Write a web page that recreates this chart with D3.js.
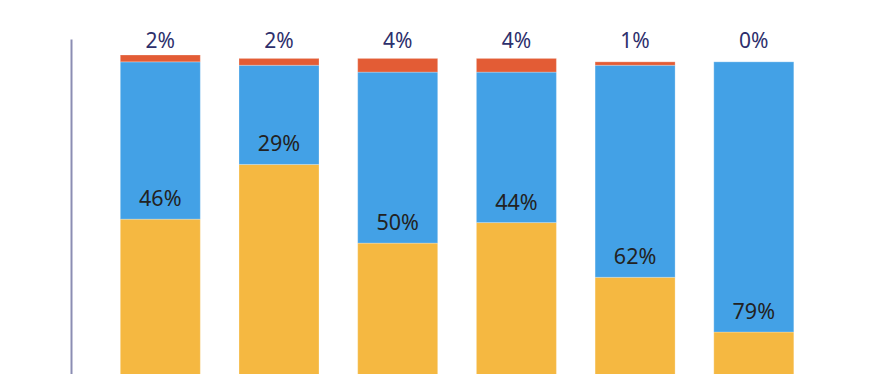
<!DOCTYPE html>
<html>
<head>
<meta charset="utf-8">
<script src="https://cdn.jsdelivr.net/npm/d3@7"></script>
<style>
  html, body { margin: 0; padding: 0; background: #fff; overflow: hidden; }
  svg { display: block; }
  text { font-family: "Noto Sans", "Open Sans", sans-serif; }
</style>
</head>
<body>
<svg id="chart" width="872" height="374"></svg>
<script>
const categories = ["A", "B", "C", "D", "E", "F"];
const orangeValues = [52, 68, 45, 51, 35, 19];
const blueValues = [46, 29, 50, 44, 62, 79];
const redValues = [2, 2, 4, 4, 1, 0];
const topLabels = ["2%", "2%", "4%", "4%", "1%", "0%"];
const blueLabels = ["46%", "29%", "50%", "44%", "62%", "79%"];

const colors = { orange: "#f5b841", blue: "#43a1e6", red: "#e35c35" };

const svg = d3.select("#chart");

const step = 118.7, pi = 0.326, po = pi / 2;
const x0 = 120.3 - po * step;
const x = d3.scaleBand()
  .domain(categories)
  .range([x0, x0 + step * 6])
  .paddingInner(pi)
  .paddingOuter(po);

const y = d3.scaleLinear().domain([0, 100]).range([397, 55]);

const rows = categories.map((c, i) => ({
  cat: c, orange: orangeValues[i], blue: blueValues[i], red: redValues[i]
}));
const stack = d3.stack().keys(["orange", "blue", "red"]);
const series = stack(rows);

svg.append("g").selectAll("g")
  .data(series)
  .join("g")
  .attr("fill", d => colors[d.key])
  .selectAll("rect")
  .data(d => d)
  .join("rect")
  .attr("x", d => x(d.data.cat))
  .attr("width", x.bandwidth())
  .attr("y", d => y(d[1]))
  .attr("height", d => Math.max(0, y(d[0]) - y(d[1])))
  .attr("stroke", "#ffffff")
  .attr("stroke-opacity", 0.25)
  .attr("stroke-width", 1);

// axis line
const yAxisScale = d3.scaleLinear().domain([0, 100]).range([397, 39]);
const axis = svg.append("g")
  .attr("transform", "translate(71,0)")
  .call(d3.axisLeft(yAxisScale).tickValues([]).tickSizeOuter(0));
axis.select(".domain").attr("stroke", "#8b8db3").attr("stroke-width", 2);

// top labels
svg.append("g").selectAll("text")
  .data(rows)
  .join("text")
  .attr("x", d => x(d.cat) + x.bandwidth() / 2)
  .attr("y", 47.5)
  .attr("text-anchor", "middle")
  .attr("font-size", 21)
  .attr("fill", "#2d2f6c")
  .text((d, i) => topLabels[i]);

// blue labels
svg.append("g").selectAll("text")
  .data(rows)
  .join("text")
  .attr("x", d => x(d.cat) + x.bandwidth() / 2)
  .attr("y", d => y(d.orange) - 13)
  .attr("text-anchor", "middle")
  .attr("font-size", 21.5)
  .attr("fill", "#222222")
  .text((d, i) => blueLabels[i]);
</script>
</body>
</html>
